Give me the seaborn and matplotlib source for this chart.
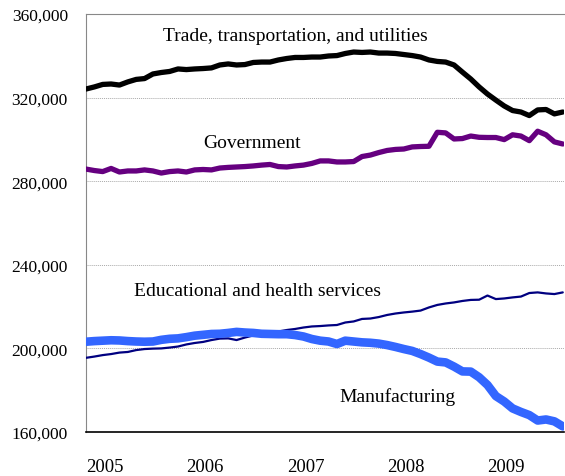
import numpy as np
import pandas as pd
import matplotlib
matplotlib.use('Agg')
import matplotlib.pyplot as plt
import seaborn as sns

# monthly values, Jan 2005 .. Oct 2009
trade = [324.1, 325.1, 326.3, 326.5, 326.0, 327.5, 328.7, 329.1, 331.3, 332.0,
         332.5, 333.7, 333.4, 333.7, 333.9, 334.2, 335.6, 336.1, 335.6, 335.8,
         336.8, 337.0, 337.0, 338.0, 338.7, 339.2, 339.2, 339.4, 339.4, 339.9,
         340.1, 341.1, 341.8, 341.6, 341.8, 341.3, 341.3, 341.1, 340.6, 340.1,
         339.4, 338.0, 337.3, 337.0, 335.6, 332.2, 328.9, 325.1, 321.7, 318.8,
         316.0, 313.8, 313.1, 311.4, 314.1, 314.3, 312.2, 313.1]
government = [285.8, 285.1, 284.6, 286.1, 284.4, 284.9, 284.9, 285.4, 284.9, 283.9,
              284.6, 284.9, 284.4, 285.4, 285.6, 285.4, 286.3, 286.6, 286.8, 287.0,
              287.3, 287.7, 288.0, 287.0, 286.8, 287.3, 287.7, 288.5, 289.7, 289.7,
              289.2, 289.2, 289.4, 291.8, 292.5, 293.7, 294.7, 295.2, 295.4, 296.4,
              296.6, 296.7, 303.4, 303.1, 300.2, 300.4, 301.6, 301.0, 300.9, 300.9,
              299.9, 302.2, 301.6, 299.4, 303.9, 302.2, 298.8, 297.8]
education = [195.5, 196.1, 196.8, 197.3, 198.0, 198.3, 199.2, 199.7, 199.9, 200.0,
             200.4, 200.9, 201.9, 202.6, 203.1, 204.0, 204.7, 204.8, 204.0, 205.2,
             206.2, 206.9, 207.4, 208.1, 208.8, 209.3, 210.0, 210.5, 210.7, 211.0,
             211.2, 212.4, 212.9, 214.1, 214.3, 215.0, 216.0, 216.7, 217.2, 217.6,
             218.1, 219.6, 220.8, 221.5, 222.0, 222.7, 223.2, 223.3, 225.3, 223.6,
             223.9, 224.4, 224.8, 226.5, 226.8, 226.3, 226.0, 226.8]
manufacturing = [203.2, 203.5, 203.7, 203.9, 203.8, 203.5, 203.3, 203.2, 203.3, 204.1,
                 204.6, 204.8, 205.4, 206.1, 206.5, 206.9, 207.0, 207.4, 207.9, 207.6,
                 207.4, 207.0, 206.9, 206.8, 206.8, 206.4, 205.7, 204.5, 203.7, 203.3,
                 202.1, 203.7, 203.3, 202.9, 202.7, 202.3, 201.6, 200.7, 199.7, 198.8,
                 197.3, 195.6, 193.7, 193.3, 191.3, 189.0, 188.9, 186.2, 182.5, 177.2,
                 174.6, 171.3, 169.6, 168.1, 165.5, 166.0, 165.1, 162.7]
years = ['2005', '2006', '2007', '2008', '2009']
yticks = [160000, 200000, 240000, 280000, 320000, 360000]

months = np.arange(len(trade))

sns.set_style('white')
plt.rcParams['font.family'] = ['Liberation Serif', 'DejaVu Serif']

fig = plt.figure(figsize=(5.65, 4.77), dpi=100)
ax = fig.add_axes([0.1522, 0.0922, 0.8468, 0.8764])

series = [
    (trade, '#000000', 3.8),
    (government, '#660080', 3.8),
    (education, '#000080', 1.6),
    (manufacturing, '#3366ff', 6.2),
]
for vals, col, lw in series:
    sns.lineplot(x=months, y=np.array(vals) * 1000, color=col, linewidth=lw,
                 ax=ax, zorder=3)

ax.set_xlim(0, 57.2)
ax.set_ylim(160000, 360000)
ax.set_yticks(yticks)
ax.set_yticklabels([f'{v:,}' for v in yticks])
ax.set_xticks([0, 12, 24, 36, 48])
ax.set_xticklabels(years, ha='left')
ax.tick_params(axis='y', length=0, pad=13, labelsize=12.5, colors='#000000')
ax.tick_params(axis='x', length=5, width=0.8, color='#888888', direction='out',
               pad=14, labelsize=13.5, labelcolor='#000000')

ax.grid(axis='y', color='#aaaaaa', linestyle=(0, (1, 1)), linewidth=0.7)
ax.set_axisbelow(True)
ax.spines['right'].set_visible(False)
ax.spines['top'].set_color('#888888')
ax.spines['top'].set_linewidth(0.8)
ax.spines['left'].set_color('#888888')
ax.spines['left'].set_linewidth(0.8)
ax.spines['bottom'].set_color('#000000')
ax.spines['bottom'].set_linewidth(1.2)

labels = [
    ('Trade, transportation, and utilities', 9.2, 349500),
    ('Government', 14.0, 298500),
    ('Educational and health services', 5.7, 227500),
    ('Manufacturing', 30.3, 177000),
]
for txt, x, y in labels:
    ax.text(x, y, txt, fontsize=14, ha='left', va='center', color='#000000')

ax.set_xlabel('')
ax.set_ylabel('')
fig.savefig('out.png', dpi=100)
